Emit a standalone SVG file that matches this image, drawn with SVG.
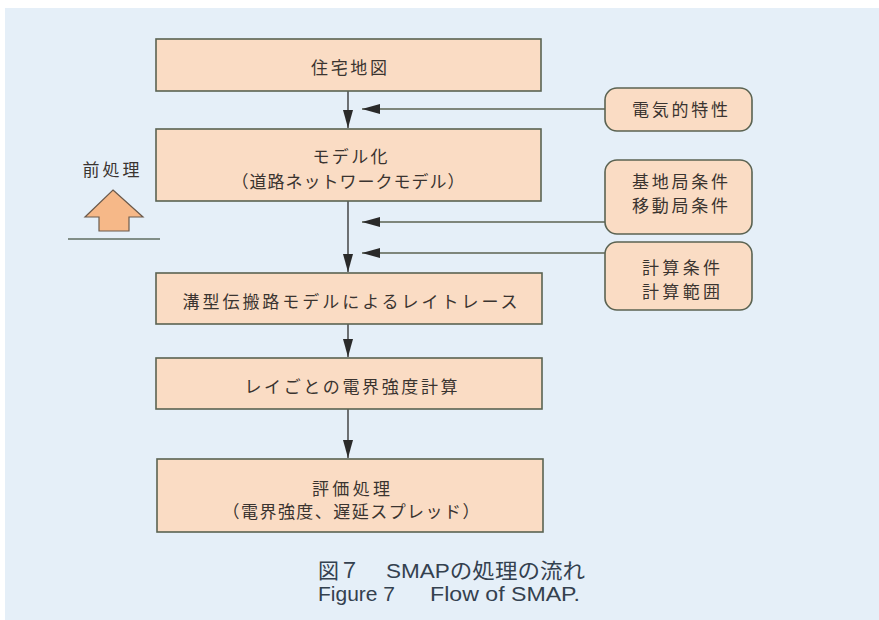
<svg xmlns="http://www.w3.org/2000/svg" width="879" height="620" viewBox="0 0 879 620">
<defs>
<style>
.box{fill:#fadcc4;stroke:#5b6352;stroke-width:1.6}
.rbox{fill:#fadcc4;stroke:#5b6352;stroke-width:1.6}
.t{font-family:"Noto Sans CJK JP","Liberation Sans",sans-serif;font-size:17px;fill:#3a3430;text-anchor:middle;dominant-baseline:central}
.cap{font-family:"Liberation Sans","Noto Sans CJK JP",sans-serif;font-size:21px;fill:#34414f;dominant-baseline:central}
.ln{stroke:#3a3a3a;stroke-width:1.4;fill:none}
.hl{stroke:#5b6352;stroke-width:1.6;fill:none}
</style>
<marker id="ah" markerUnits="userSpaceOnUse" markerWidth="18" markerHeight="10" refX="18" refY="5" orient="auto">
<path d="M0,0 L18,5 L0,10 Z" fill="#2a2a2a"/>
</marker>
</defs>
<rect x="0" y="0" width="879" height="620" fill="#ffffff"/>
<rect x="5" y="8" width="874" height="612" fill="#e5eff8"/>

<g id="connectors">
<line class="ln" x1="348" y1="91" x2="348" y2="128" marker-end="url(#ah)"/>
<line class="ln" x1="348" y1="201" x2="348" y2="272" marker-end="url(#ah)"/>
<line class="ln" x1="348" y1="324" x2="348" y2="357" marker-end="url(#ah)"/>
<line class="ln" x1="348" y1="409" x2="348" y2="458" marker-end="url(#ah)"/>
<line class="hl" x1="605" y1="109" x2="362" y2="109" marker-end="url(#ah)"/>
<line class="hl" x1="605" y1="222" x2="362" y2="222" marker-end="url(#ah)"/>
<line class="hl" x1="605" y1="253" x2="362" y2="253" marker-end="url(#ah)"/>
</g>

<g id="n1">
<rect class="box" x="156" y="39" width="385" height="52"/>
<text class="t" x="349" y="66" textLength="76" lengthAdjust="spacing">住宅地図</text>
</g>
<g id="n2">
<rect class="box" x="156" y="129" width="385" height="72"/>
<text class="t" x="350" y="155" textLength="75" lengthAdjust="spacing">モデル化</text>
<text class="t" x="348" y="180" textLength="233" lengthAdjust="spacing">（道路ネットワークモデル）</text>
</g>
<g id="n3">
<rect class="box" x="156" y="273" width="386" height="51"/>
<text class="t" x="350" y="300" textLength="335" lengthAdjust="spacing">溝型伝搬路モデルによるレイトレース</text>
</g>
<g id="n4">
<rect class="box" x="156" y="358" width="386" height="51"/>
<text class="t" x="351" y="385" textLength="213" lengthAdjust="spacing">レイごとの電界強度計算</text>
</g>
<g id="n5">
<rect class="box" x="157" y="459" width="386" height="73"/>
<text class="t" x="351" y="487" textLength="78" lengthAdjust="spacing">評価処理</text>
<text class="t" x="351" y="510" textLength="257" lengthAdjust="spacing">（電界強度、遅延スプレッド）</text>
</g>

<g id="r1">
<rect class="rbox" x="605" y="88" width="147" height="43" rx="12" ry="12"/>
<text class="t" x="680" y="108" textLength="96" lengthAdjust="spacing">電気的特性</text>
</g>
<g id="r2">
<rect class="rbox" x="605" y="160" width="147" height="74" rx="12" ry="12"/>
<text class="t" x="680" y="180" textLength="96" lengthAdjust="spacing">基地局条件</text>
<text class="t" x="680" y="204" textLength="96" lengthAdjust="spacing">移動局条件</text>
</g>
<g id="r3">
<rect class="rbox" x="605" y="242" width="147" height="68" rx="12" ry="12"/>
<text class="t" x="681" y="266" textLength="78" lengthAdjust="spacing">計算条件</text>
<text class="t" x="681" y="290" textLength="78" lengthAdjust="spacing">計算範囲</text>
</g>

<g id="preproc">
<text class="t" x="111" y="168" textLength="57" lengthAdjust="spacing">前処理</text>
<polygon points="113,190 143,217 129,217 129,231 99,231 99,217 85,217" fill="#f6b888" stroke="#6b5a4c" stroke-width="1.2"/>
<line x1="68" y1="239" x2="160" y2="239" stroke="#5f6e62" stroke-width="1.6"/>
</g>

<g id="caption">
<text class="cap" x="318" y="570">図７</text>
<text class="cap" x="386" y="570" textLength="199" lengthAdjust="spacingAndGlyphs">SMAPの処理の流れ</text>
<text class="cap" x="318" y="593">Figure 7</text>
<text class="cap" x="430" y="593" textLength="150" lengthAdjust="spacingAndGlyphs">Flow of SMAP.</text>
</g>
</svg>
